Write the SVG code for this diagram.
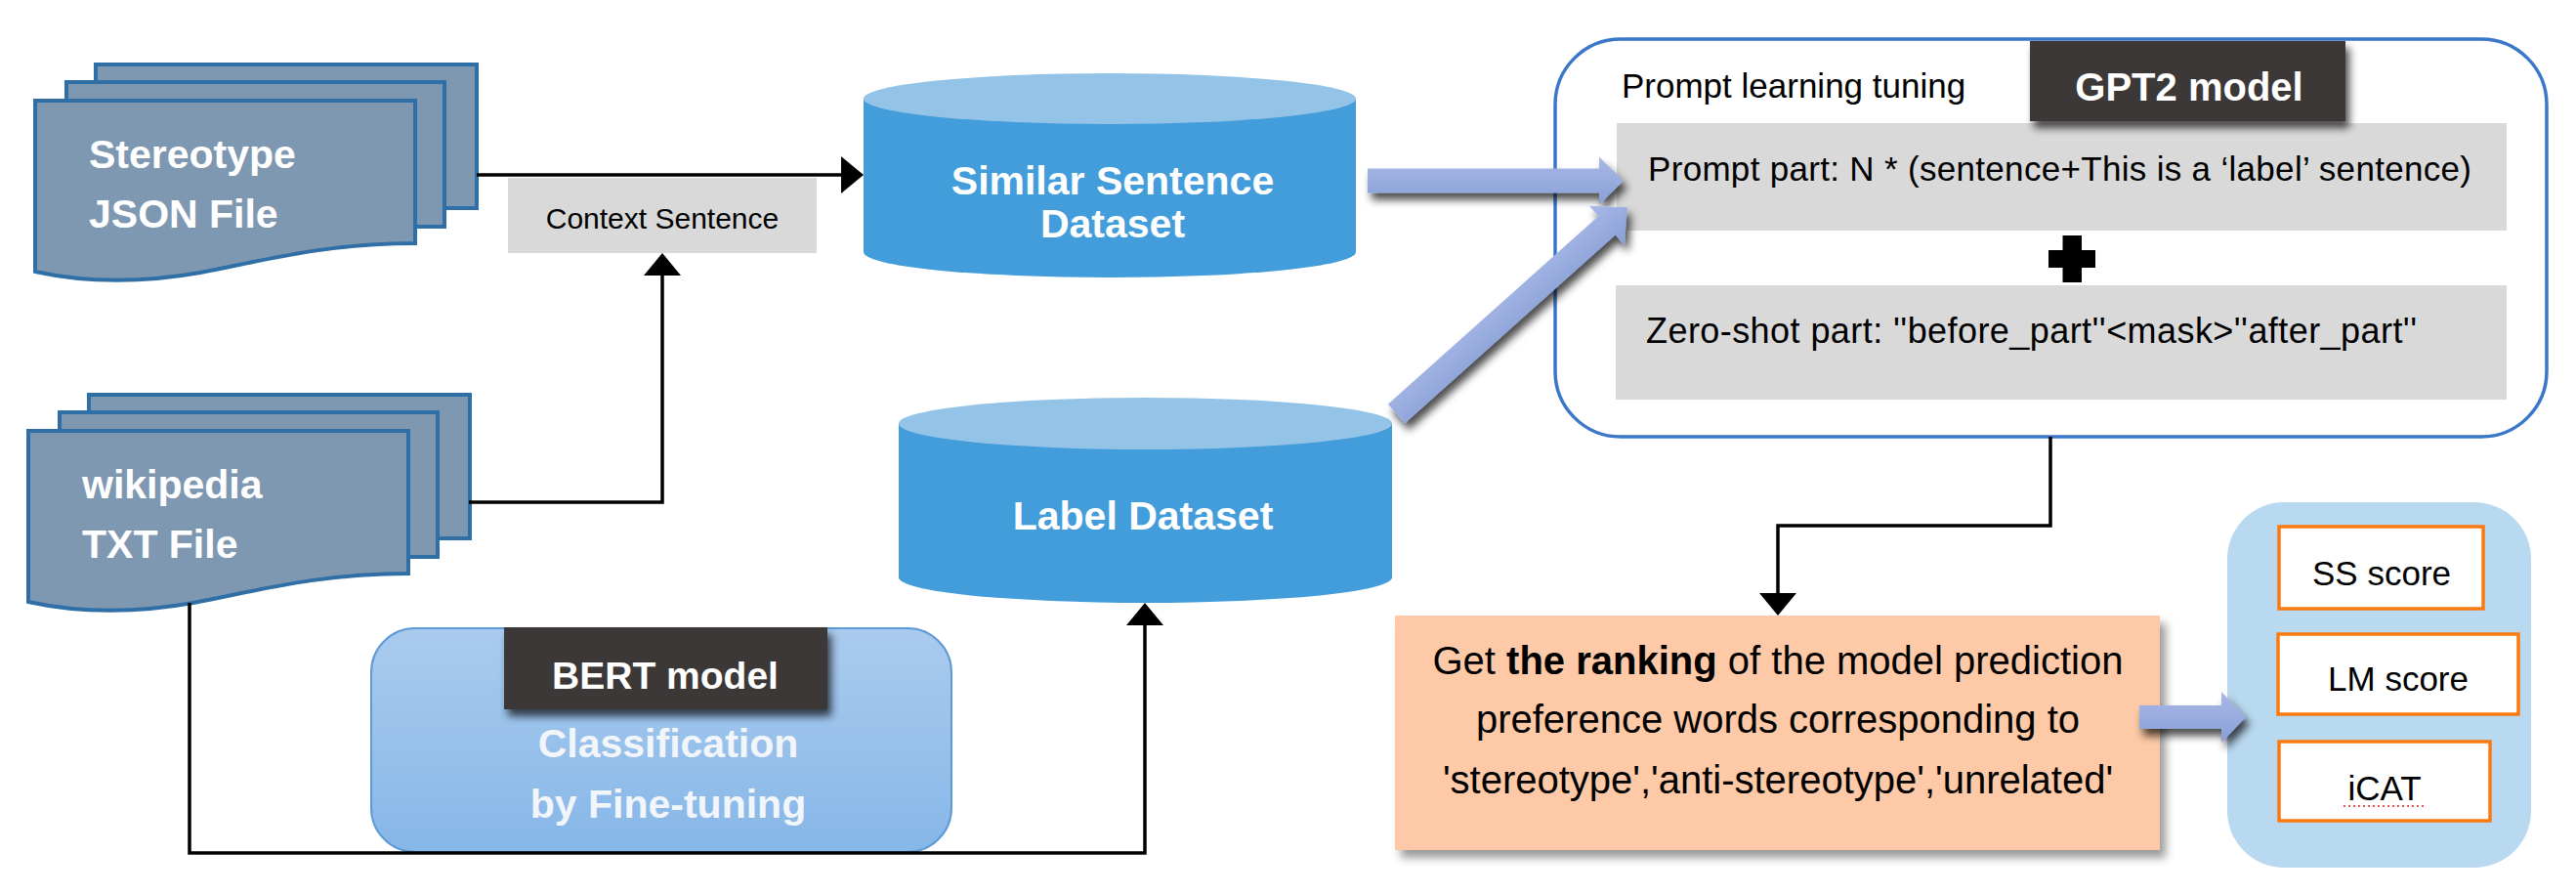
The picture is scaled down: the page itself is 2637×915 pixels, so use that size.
<svg xmlns="http://www.w3.org/2000/svg" width="2637" height="915" viewBox="0 0 2637 915">
<style>
.doc{fill:#7f98b2;stroke:#2f6fa5;stroke-width:4}
.wt{fill:#ffffff;font-family:"Liberation Sans",Arial,sans-serif;font-weight:bold;font-size:41px}
.bk{fill:#000000;font-family:"Liberation Sans",Arial,sans-serif;font-size:35px}
.conn{fill:none;stroke:#000;stroke-width:3.5}
.gray{fill:#d9d9d9}
.cylb{fill:#449ddb}
.cylt{fill:#93c4e8}
.metric{fill:#ffffff;stroke:#fb7a0f;stroke-width:3.5}
.dark{fill:#3d3938}
.barrow{fill:url(#agrad)}
</style>
<defs>
<marker id="ah" viewBox="0 0 23 38" refX="0" refY="19" markerWidth="23" markerHeight="38" markerUnits="userSpaceOnUse" orient="auto">
<path d="M0,0 L23,19 L0,38 Z" fill="#000"/>
</marker>
<linearGradient id="agrad" x1="0" y1="0" x2="0" y2="1">
<stop offset="0" stop-color="#a9b9e7"/>
<stop offset="1" stop-color="#889fd6"/>
</linearGradient>
<linearGradient id="bertgrad" x1="0" y1="0" x2="0" y2="1">
<stop offset="0" stop-color="#aacbee"/>
<stop offset="1" stop-color="#86b7e8"/>
</linearGradient>
<filter id="sh" x="-20%" y="-40%" width="150%" height="200%">
<feDropShadow dx="4" dy="7" stdDeviation="4" flood-color="#000" flood-opacity="0.7"/>
</filter>
<filter id="sh2" x="-10%" y="-10%" width="125%" height="130%">
<feDropShadow dx="6" dy="8" stdDeviation="5" flood-color="#000" flood-opacity="0.4"/>
</filter>
<g id="docstack">
<rect class="doc" x="98" y="66" width="390" height="147"/>
<rect class="doc" x="68" y="84" width="387" height="148"/>
<path class="doc" d="M36,103 H425 V249 C330,249 265,268 205,279 C160,287 100,292 36,278 Z"/>
</g>
</defs>

<g id="stereotype-json">
<use href="#docstack"/>
<text class="wt" x="91" y="172">Stereotype</text>
<text class="wt" x="91" y="233">JSON File</text>
</g>

<g id="wikipedia-txt">
<use href="#docstack" transform="translate(-7,338)"/>
<text class="wt" x="84" y="510">wikipedia</text>
<text class="wt" x="84" y="571">TXT File</text>
</g>

<g id="context-sentence">
<rect class="gray" x="520" y="182" width="316" height="77"/>
<text class="bk" x="678" y="234" text-anchor="middle" style="font-size:30px">Context Sentence</text>
</g>

<g id="similar-sentence-dataset">
<path class="cylb" d="M884,101 V258 A252,26 0 0 0 1388,258 V101 Z"/>
<ellipse class="cylt" cx="1136" cy="101" rx="252" ry="26"/>
<text class="wt" x="1139" y="199" text-anchor="middle">Similar Sentence</text>
<text class="wt" x="1139" y="243" text-anchor="middle">Dataset</text>
</g>

<g id="label-dataset">
<path class="cylb" d="M920,433 V591 A252.5,26 0 0 0 1425,591 V433 Z"/>
<ellipse class="cylt" cx="1172.5" cy="433.5" rx="252.5" ry="26.5"/>
<text class="wt" x="1170" y="542" text-anchor="middle">Label Dataset</text>
</g>

<g id="bert-classification">
<rect x="380" y="643" width="594" height="229" rx="45" ry="45" fill="url(#bertgrad)" stroke="#5d9ad6" stroke-width="2"/>
<rect class="dark" x="516" y="642" width="331" height="84" filter="url(#sh)"/>
<text class="wt" x="681" y="705" text-anchor="middle" style="font-size:39px">BERT model</text>
<text class="wt" x="684" y="775" text-anchor="middle" style="fill:#f2f6fb">Classification</text>
<text class="wt" x="684" y="837" text-anchor="middle" style="fill:#f2f6fb">by Fine-tuning</text>
</g>

<g id="prompt-learning">
<rect x="1592" y="40" width="1015" height="407" rx="67" ry="67" fill="#ffffff" stroke="#3b77c8" stroke-width="3.5"/>
<text class="bk" x="1660" y="100">Prompt learning tuning</text>
<rect class="gray" x="1655" y="126" width="911" height="110"/>
<rect class="dark" x="2078" y="42" width="323" height="82" filter="url(#sh)"/>
<text class="wt" x="2241" y="103" text-anchor="middle" style="font-size:40px">GPT2 model</text>
<text class="bk" x="1687" y="185" textLength="843">Prompt part: N * (sentence+This is a ‘label’ sentence)</text>
<rect x="2111.5" y="241" width="19.5" height="48" fill="#000"/>
<rect x="2097" y="256" width="48" height="18" fill="#000"/>
<rect class="gray" x="1654" y="292" width="912" height="117"/>
<text class="bk" x="1685" y="351" textLength="789" style="font-size:36px">Zero-shot part: ''before_part''&lt;mask&gt;''after_part''</text>
</g>

<g id="ranking">
<rect x="1428" y="630" width="783" height="240" fill="#fdc9a6" filter="url(#sh2)"/>
<text class="bk" x="1820" y="690" text-anchor="middle" style="font-size:40px">Get <tspan font-weight="bold">the ranking</tspan> of the model prediction</text>
<text class="bk" x="1820" y="750" text-anchor="middle" style="font-size:40px">preference words corresponding to</text>
<text class="bk" x="1820" y="812" text-anchor="middle" style="font-size:40px">'stereotype','anti-stereotype','unrelated'</text>
</g>

<g id="metrics">
<rect x="2280" y="514" width="311" height="374" rx="58" ry="58" fill="#b9d9f1"/>
<g id="ss-score">
<rect class="metric" x="2333" y="539" width="209" height="84"/>
<text class="bk" x="2438" y="599" text-anchor="middle">SS score</text>
</g>
<g id="lm-score">
<rect class="metric" x="2332" y="649" width="246" height="82"/>
<text class="bk" x="2455" y="707" text-anchor="middle">LM score</text>
</g>
<g id="icat">
<rect class="metric" x="2333" y="759" width="216" height="81"/>
<text class="bk" x="2441" y="819" text-anchor="middle">iCAT</text>
<line x1="2399" y1="825" x2="2481" y2="825" stroke="#e02020" stroke-width="1.5" stroke-dasharray="2,3"/>
</g>
</g>

<g id="connectors">
<path class="conn" d="M488,179 H861" marker-end="url(#ah)"/>
<path class="conn" d="M480,514 H678 V282" marker-end="url(#ah)"/>
<path class="conn" d="M194,617 V873 H1172 V640" marker-end="url(#ah)"/>
<path class="conn" d="M2099,447 V538 H1820 V607" marker-end="url(#ah)"/>
<g filter="url(#sh)">
<path class="barrow" transform="translate(1400,185)" d="M0,-12.5 H237 V-24.5 L262,0 L237,24.5 V12.5 H0 Z"/>
<path class="barrow" transform="translate(1429.5,423.5) rotate(-41.8)" d="M0,-13 H289 V-27 L317,0 L289,27 V13 H0 Z"/>
<path class="barrow" transform="translate(2190,734)" d="M0,-12 H84 V-26 L109,0 L84,26 V12 H0 Z"/>
</g>
</g>
</svg>
